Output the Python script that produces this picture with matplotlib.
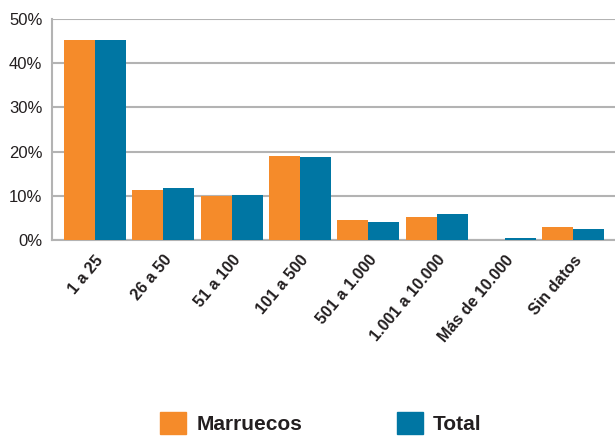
import numpy as np
import matplotlib.pyplot as plt
from matplotlib.patches import Patch

plt.rcParams['font.family'] = ['Liberation Sans', 'DejaVu Sans']

categorias = ['1 a 25', '26 a 50', '51 a 100', '101 a 500', '501 a 1.000',
              '1.001 a 10.000', 'Más de 10.000', 'Sin datos']
marruecos = [45.2, 11.3, 10.0, 19.1, 4.5, 5.2, 0.0, 2.9]
total = [45.2, 11.8, 10.1, 18.8, 4.1, 5.9, 0.5, 2.5]
y_ticks = [0, 10, 20, 30, 40, 50]

naranja = '#F58B2A'
azul = '#0076A3'
texto = '#231F20'

fig = plt.figure(figsize=(6.15, 4.37), dpi=100)
ax = fig.add_axes([0.0846, 0.451, 0.9154, 0.5055])

x = np.arange(len(categorias))
w = 0.454
ax.bar(x - w / 2, marruecos, w, color=naranja, zorder=3)
ax.bar(x + w / 2, total, w, color=azul, zorder=3)

ax.set_xlim(-0.63, 7.61)
ax.set_ylim(0, 50)
ax.set_yticks(y_ticks)
ax.set_yticklabels([f'{v}%' for v in y_ticks], fontsize=12, color=texto)
ax.set_xticks(x)
ax.set_xticklabels(categorias, rotation=50, ha='right', rotation_mode='anchor',
                   fontsize=11.5, fontweight='bold', color=texto)
ax.tick_params(axis='both', length=0)
ax.tick_params(axis='x', pad=9)
ax.tick_params(axis='y', pad=7)

ax.grid(axis='y', color='#b3b3b3', linewidth=1.5, zorder=0)
for s in ['top', 'right']:
    ax.spines[s].set_visible(False)
for s in ['left', 'bottom']:
    ax.spines[s].set_color('#b3b3b3')
    ax.spines[s].set_linewidth(1.5)

handles = [Patch(color=naranja, label='Marruecos'), Patch(color=azul, label='Total')]
leg = fig.legend(handles=handles, loc='center', bbox_to_anchor=(0.522, 0.032), ncol=2,
                 frameon=False, prop={'size': 15, 'weight': 'bold'},
                 handlelength=1.25, handleheight=1.25, columnspacing=4.5, handletextpad=0.5)
for t in leg.get_texts():
    t.set_color(texto)

fig.savefig('out.png', dpi=100)
